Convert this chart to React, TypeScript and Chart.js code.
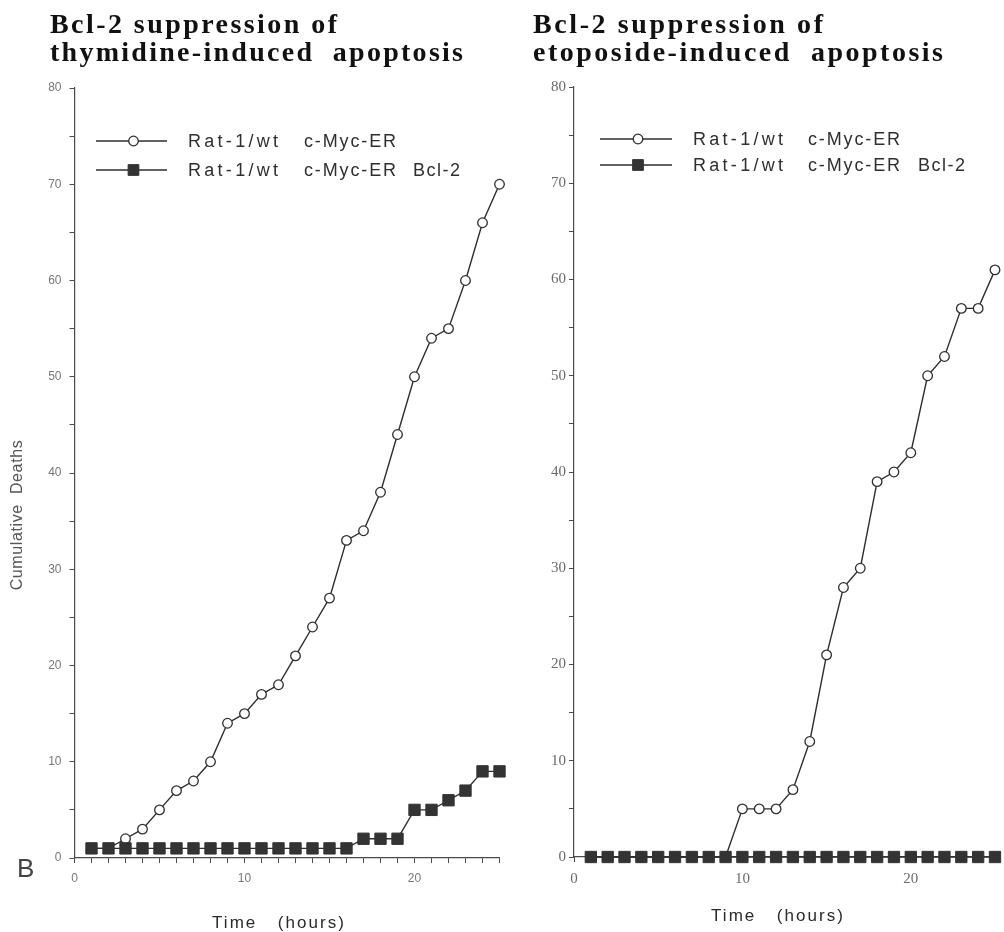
import { useEffect, useRef } from 'react';
import { Chart, registerables } from 'chart.js';

Chart.register(...registerables);

// Hours after treatment
const hours = [1, 2, 3, 4, 5, 6, 7, 8, 9, 10, 11, 12, 13, 14, 15, 16, 17, 18, 19, 20, 21, 22, 23, 24, 25];

// Cumulative deaths after thymidine
const thymidineMycER = [1, 1, 2, 3, 5, 7, 8, 10, 14, 15, 17, 18, 21, 24, 27, 33, 34, 38, 44, 50, 54, 55, 60, 66, 70];
const thymidineMycERBcl2 = [1, 1, 1, 1, 1, 1, 1, 1, 1, 1, 1, 1, 1, 1, 1, 1, 2, 2, 2, 5, 5, 6, 7, 9, 9];

// Cumulative deaths after etoposide
const etoposideMycER = [0, 0, 0, 0, 0, 0, 0, 0, 0, 5, 5, 5, 7, 12, 21, 28, 30, 39, 40, 42, 50, 52, 57, 57, 61];
const etoposideMycERBcl2 = [0, 0, 0, 0, 0, 0, 0, 0, 0, 0, 0, 0, 0, 0, 0, 0, 0, 0, 0, 0, 0, 0, 0, 0, 0];

const seriesLabels = ['Rat-1/wt   c-Myc-ER', 'Rat-1/wt   c-Myc-ER   Bcl-2'];
const xLabelledTicks = [0, 10, 20];
const yLabelledTicks = [0, 10, 20, 30, 40, 50, 60, 70, 80];
const thymidineTitle = ['Bcl-2 suppression of', 'thymidine-induced  apoptosis'];
const etoposideTitle = ['Bcl-2 suppression of', 'etoposide-induced  apoptosis'];
const xAxisTitle = 'Time   (hours)';
const yAxisTitle = 'Cumulative  Deaths';
const panelMark = 'B';

const CANVAS_H = 932;
const INK = '#2e2e2e';
const AXIS = '#4a4a4a';

interface PanelSpec {
  left: number;
  width: number;
  area: { left: number; top: number; right: number; bottom: number };
  title: string[];
  titleX: number;
  titleBaselines: number[];
  titleWidths: number[];
  legendLine: [number, number];
  legendRows: number[];
  legendStops: number[];
  tickFamily: string;
  tickSize: number;
  tickColor: string;
  xTickMarkStep: number;
  yLabelPad: number;
  xLabelPad: number;
  xTitle: { cx: number; baseline: number };
  yTitle?: { cx: number; cy: number };
  mark?: { x: number; baseline: number };
  mycER: number[];
  bcl2: number[];
}

const legendPartWidths = [90, 92, 47];

const panels: PanelSpec[] = [
  {
    left: 0,
    width: 520,
    area: { left: 74.5, top: 88, right: 499.5, bottom: 858 },
    title: thymidineTitle,
    titleX: 50,
    titleBaselines: [33, 61],
    titleWidths: [287, 413],
    legendLine: [96, 167],
    legendRows: [141, 170],
    legendStops: [188, 304, 413],
    tickFamily: '"Liberation Sans", Arial, sans-serif',
    tickSize: 12,
    tickColor: '#777',
    xTickMarkStep: 1,
    yLabelPad: 8,
    xLabelPad: 8,
    xTitle: { cx: 279, baseline: 928 },
    yTitle: { cx: 18, cy: 515 },
    mark: { x: 17, baseline: 877 },
    mycER: thymidineMycER,
    bcl2: thymidineMycERBcl2,
  },
  {
    left: 520,
    width: 484,
    area: { left: 54, top: 87, right: 479, bottom: 857 },
    title: etoposideTitle,
    titleX: 13,
    titleBaselines: [33, 61],
    titleWidths: [290, 410],
    legendLine: [80, 152],
    legendRows: [139, 165],
    legendStops: [173, 288, 398],
    tickFamily: '"Liberation Serif", "Times New Roman", serif',
    tickSize: 15,
    tickColor: '#6a6a6a',
    xTickMarkStep: 10,
    yLabelPad: 3,
    xLabelPad: 8,
    xTitle: { cx: 258, baseline: 921 },
    mycER: etoposideMycER,
    bcl2: etoposideMycERBcl2,
  },
];

function spacingFor(ctx: CanvasRenderingContext2D, text: string, width: number): number {
  (ctx as any).letterSpacing = '0px';
  const w = ctx.measureText(text).width;
  return Math.max(0, (width - w) / Math.max(1, text.length - 1));
}

function drawSpaced(ctx: CanvasRenderingContext2D, text: string, x: number, y: number, width: number) {
  const s = spacingFor(ctx, text, width);
  (ctx as any).letterSpacing = `${s}px`;
  ctx.fillText(text, x, y);
  (ctx as any).letterSpacing = '0px';
}

function decorations(spec: PanelSpec) {
  return {
    id: 'panelDecorations',
    afterDraw(chart: Chart) {
      const ctx = chart.ctx;
      ctx.save();

      // Panel heading
      ctx.fillStyle = '#111';
      ctx.textAlign = 'left';
      ctx.textBaseline = 'alphabetic';
      ctx.font = 'bold 28px "Liberation Serif", "Times New Roman", serif';
      spec.title.forEach((line, i) => {
        drawSpaced(ctx, line, spec.titleX, spec.titleBaselines[i], spec.titleWidths[i]);
      });

      // Legend
      chart.data.datasets.forEach((ds: any, i: number) => {
        const y = spec.legendRows[i];
        ctx.strokeStyle = ds.borderColor;
        ctx.lineWidth = ds.borderWidth;
        ctx.beginPath();
        ctx.moveTo(spec.legendLine[0], y);
        ctx.lineTo(spec.legendLine[1], y);
        ctx.stroke();
        const mx = (spec.legendLine[0] + spec.legendLine[1]) / 2 + 2;
        ctx.lineWidth = ds.pointBorderWidth;
        ctx.strokeStyle = ds.pointBorderColor;
        ctx.fillStyle = ds.pointBackgroundColor;
        ctx.beginPath();
        if (ds.pointStyle === 'rect') {
          const half = ds.pointRadius * Math.SQRT1_2 * 0.95;
          ctx.rect(mx - half, y - half, half * 2, half * 2);
        } else {
          ctx.arc(mx, y, ds.pointRadius, 0, Math.PI * 2);
        }
        ctx.fill();
        ctx.stroke();

        ctx.fillStyle = '#2f2f2f';
        ctx.font = '18px "Liberation Sans", Arial, sans-serif';
        ctx.textBaseline = 'middle';
        const parts = String(ds.label).split(/\s{2,}/);
        parts.forEach((p, k) => {
          drawSpaced(ctx, p, spec.legendStops[k], y + 1, legendPartWidths[k]);
        });
      });

      // Axis titles
      ctx.fillStyle = '#2a2a2a';
      ctx.textBaseline = 'alphabetic';
      ctx.textAlign = 'center';
      ctx.font = '17px "Liberation Sans", Arial, sans-serif';
      drawSpaced(ctx, xAxisTitle, spec.xTitle.cx, spec.xTitle.baseline, 132);

      if (spec.yTitle) {
        ctx.save();
        ctx.translate(spec.yTitle.cx, spec.yTitle.cy);
        ctx.rotate(-Math.PI / 2);
        ctx.fillStyle = '#555';
        ctx.textBaseline = 'middle';
        ctx.font = '16px "Liberation Sans", Arial, sans-serif';
        drawSpaced(ctx, yAxisTitle, 0, 0, 150);
        ctx.restore();
      }

      if (spec.mark) {
        ctx.fillStyle = '#444';
        ctx.textAlign = 'left';
        ctx.textBaseline = 'alphabetic';
        ctx.font = '26px "Liberation Sans", Arial, sans-serif';
        ctx.fillText(panelMark, spec.mark.x, spec.mark.baseline);
      }

      ctx.restore();
    },
  };
}

function buildChart(canvas: HTMLCanvasElement, spec: PanelSpec): Chart {
  const tickFont = { family: spec.tickFamily, size: spec.tickSize };
  return new Chart(canvas, {
    type: 'line',
    data: {
      datasets: [
        {
          label: seriesLabels[0],
          data: hours.map((h, i) => ({ x: h, y: spec.mycER[i] })),
          borderColor: INK,
          borderWidth: 1.4,
          pointStyle: 'circle',
          pointRadius: 4.8,
          pointBackgroundColor: '#fff',
          pointBorderColor: INK,
          pointBorderWidth: 1.3,
          tension: 0,
          clip: false,
          order: 1,
        } as any,
        {
          label: seriesLabels[1],
          data: hours.map((h, i) => ({ x: h, y: spec.bcl2[i] })),
          borderColor: INK,
          borderWidth: 1.4,
          pointStyle: 'rect',
          pointRadius: 8,
          pointBackgroundColor: '#333',
          pointBorderColor: '#333',
          pointBorderWidth: 1,
          tension: 0,
          clip: false,
          order: 0,
        } as any,
      ],
    },
    options: {
      responsive: false,
      animation: false,
      devicePixelRatio: 1,
      events: [],
      layout: {
        padding: { left: 0, top: spec.area.top, right: spec.width - spec.area.right, bottom: 0 },
      },
      plugins: {
        legend: { display: false },
        tooltip: { enabled: false },
        title: { display: false },
      },
      scales: {
        x: {
          type: 'linear',
          min: 0,
          max: 25,
          afterFit: (s: any) => {
            s.height = CANVAS_H - spec.area.bottom;
          },
          ticks: {
            stepSize: 1,
            autoSkip: false,
            maxRotation: 0,
            padding: spec.xLabelPad,
            font: tickFont,
            color: spec.tickColor,
            callback: (v: any) => (xLabelledTicks.includes(Number(v)) ? String(v) : ''),
          },
          grid: {
            drawOnChartArea: false,
            drawTicks: true,
            tickLength: 5,
            color: AXIS,
            tickColor: (c: any) =>
              c.tick && Math.round(c.tick.value) % spec.xTickMarkStep === 0 ? AXIS : 'rgba(0,0,0,0)',
          },
          border: { display: true, color: AXIS, width: 1.2 },
        },
        y: {
          type: 'linear',
          min: 0,
          max: 80,
          afterFit: (s: any) => {
            s.width = spec.area.left;
          },
          ticks: {
            stepSize: 5,
            padding: spec.yLabelPad,
            font: tickFont,
            color: spec.tickColor,
            callback: (v: any) => (yLabelledTicks.includes(Number(v)) ? String(v) : ''),
          },
          grid: {
            drawOnChartArea: false,
            drawTicks: true,
            tickLength: 5,
            color: AXIS,
          },
          border: { display: true, color: AXIS, width: 1.2 },
        },
      },
    } as any,
    plugins: [decorations(spec) as any],
  });
}

function Panel({ spec }: { spec: PanelSpec }) {
  const ref = useRef<HTMLCanvasElement | null>(null);
  useEffect(() => {
    if (!ref.current) return;
    const chart = buildChart(ref.current, spec);
    return () => chart.destroy();
  }, [spec]);
  return (
    <canvas
      ref={ref}
      width={spec.width}
      height={CANVAS_H}
      style={{ position: 'absolute', left: spec.left, top: 0, width: spec.width, height: CANVAS_H }}
    />
  );
}

export default function App() {
  return (
    <div
      style={{
        position: 'fixed',
        left: 0,
        top: 0,
        width: 1004,
        height: CANVAS_H,
        overflow: 'hidden',
        background: '#fff',
      }}
    >
      {panels.map((p, i) => (
        <Panel key={i} spec={p} />
      ))}
    </div>
  );
}
